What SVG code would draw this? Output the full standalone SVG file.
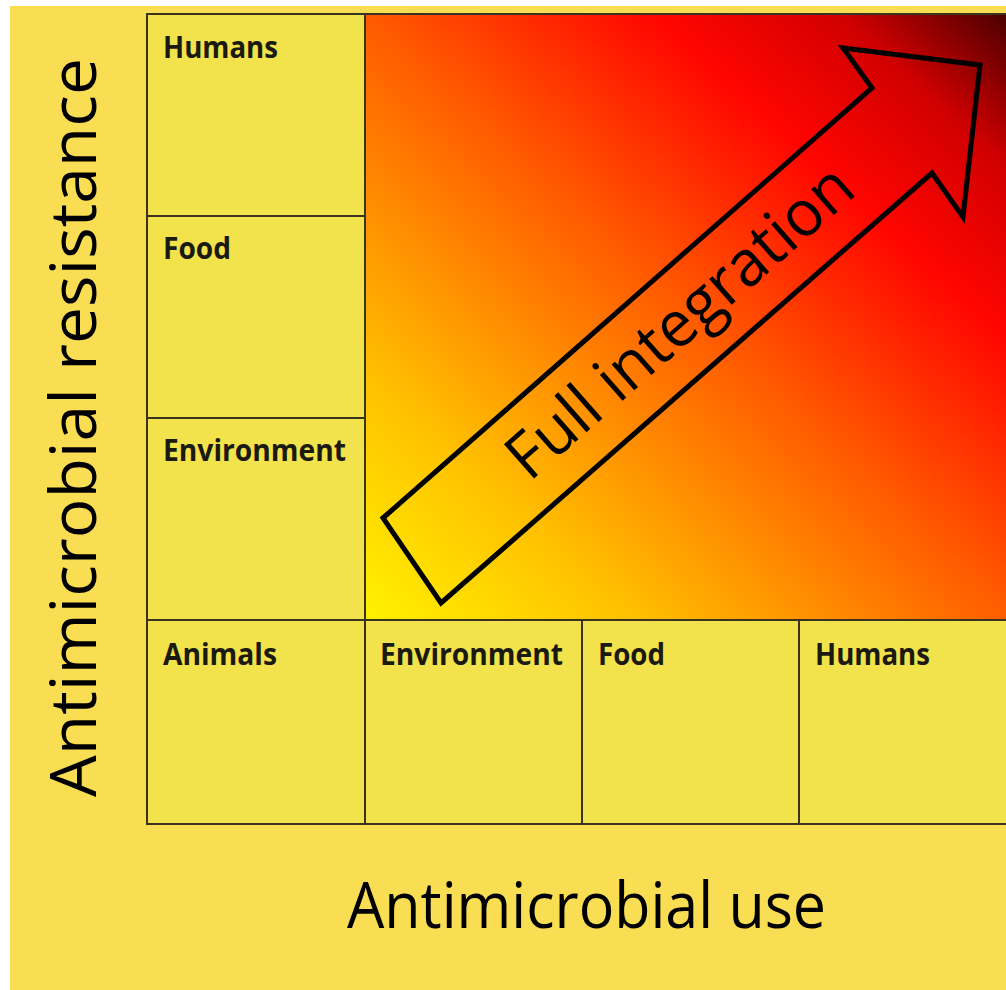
<svg xmlns="http://www.w3.org/2000/svg" width="1006" height="990" viewBox="0 0 1006 990">
  <defs>
    <linearGradient id="heat" x1="0" y1="1" x2="1" y2="0">
      <stop offset="0" stop-color="#FFF200"/>
      <stop offset="0.2" stop-color="#FFC200"/>
      <stop offset="0.5" stop-color="#FF5A00"/>
      <stop offset="0.72" stop-color="#FF0500"/>
      <stop offset="0.86" stop-color="#D00000"/>
      <stop offset="1" stop-color="#3C0000"/>
    </linearGradient>
    <style>
      .cell { fill: #F2E24B; stroke: #3A3320; stroke-width: 2; }
      .lbl { font-family: "Open Sans", "Noto Sans", sans-serif; font-weight: bold; font-size: 30px; fill: #1A1A10; }
      .axis { font-family: "Open Sans", "Noto Sans", sans-serif; font-size: 64px; fill: #000; }
    </style>
  </defs>
  <rect x="0" y="0" width="1006" height="990" fill="#FFFFFF"/>
  <rect x="10" y="6" width="996" height="984" fill="#F9DD52"/>

  <g id="heatmap">
    <rect x="365" y="14" width="660" height="606" fill="url(#heat)" stroke="#3A3320" stroke-width="2"/>
  </g>

  <g id="res-humans"><rect class="cell" x="147" y="14" width="218" height="202"/><text class="lbl" x="163" y="58" textLength="115" lengthAdjust="spacingAndGlyphs">Humans</text></g>
  <g id="res-food"><rect class="cell" x="147" y="216" width="218" height="202"/><text class="lbl" x="163" y="259" textLength="68" lengthAdjust="spacingAndGlyphs">Food</text></g>
  <g id="res-environment"><rect class="cell" x="147" y="418" width="218" height="202"/><text class="lbl" x="163" y="461" textLength="183" lengthAdjust="spacingAndGlyphs">Environment</text></g>

  <g id="use-animals"><rect class="cell" x="147" y="620" width="218" height="204"/><text class="lbl" x="163" y="665" textLength="114" lengthAdjust="spacingAndGlyphs">Animals</text></g>
  <g id="use-environment"><rect class="cell" x="365" y="620" width="217" height="204"/><text class="lbl" x="380" y="665" textLength="183" lengthAdjust="spacingAndGlyphs">Environment</text></g>
  <g id="use-food"><rect class="cell" x="582" y="620" width="217" height="204"/><text class="lbl" x="598" y="665" textLength="67" lengthAdjust="spacingAndGlyphs">Food</text></g>
  <g id="use-humans"><rect class="cell" x="799" y="620" width="230" height="204"/><text class="lbl" x="815" y="665" textLength="115" lengthAdjust="spacingAndGlyphs">Humans</text></g>

  <g id="connectors">
    <g id="full-integration-arrow">
      <polygon points="383,518 872,88 843,48 980,65 963,217 932,173 441,603" fill="none" stroke="#000" stroke-width="5" stroke-linejoin="miter"/>
      <text class="axis" transform="translate(529.6,482.4) rotate(-41.3)" x="0" y="0" textLength="438" lengthAdjust="spacingAndGlyphs">Full integration</text>
    </g>
  </g>

  <g id="axis-labels">
    <text class="axis" x="347" y="928" textLength="479" lengthAdjust="spacingAndGlyphs">Antimicrobial use</text>
    <text class="axis" transform="translate(96,797) rotate(-90)" x="0" y="0" textLength="739" lengthAdjust="spacingAndGlyphs">Antimicrobial resistance</text>
  </g>
</svg>
